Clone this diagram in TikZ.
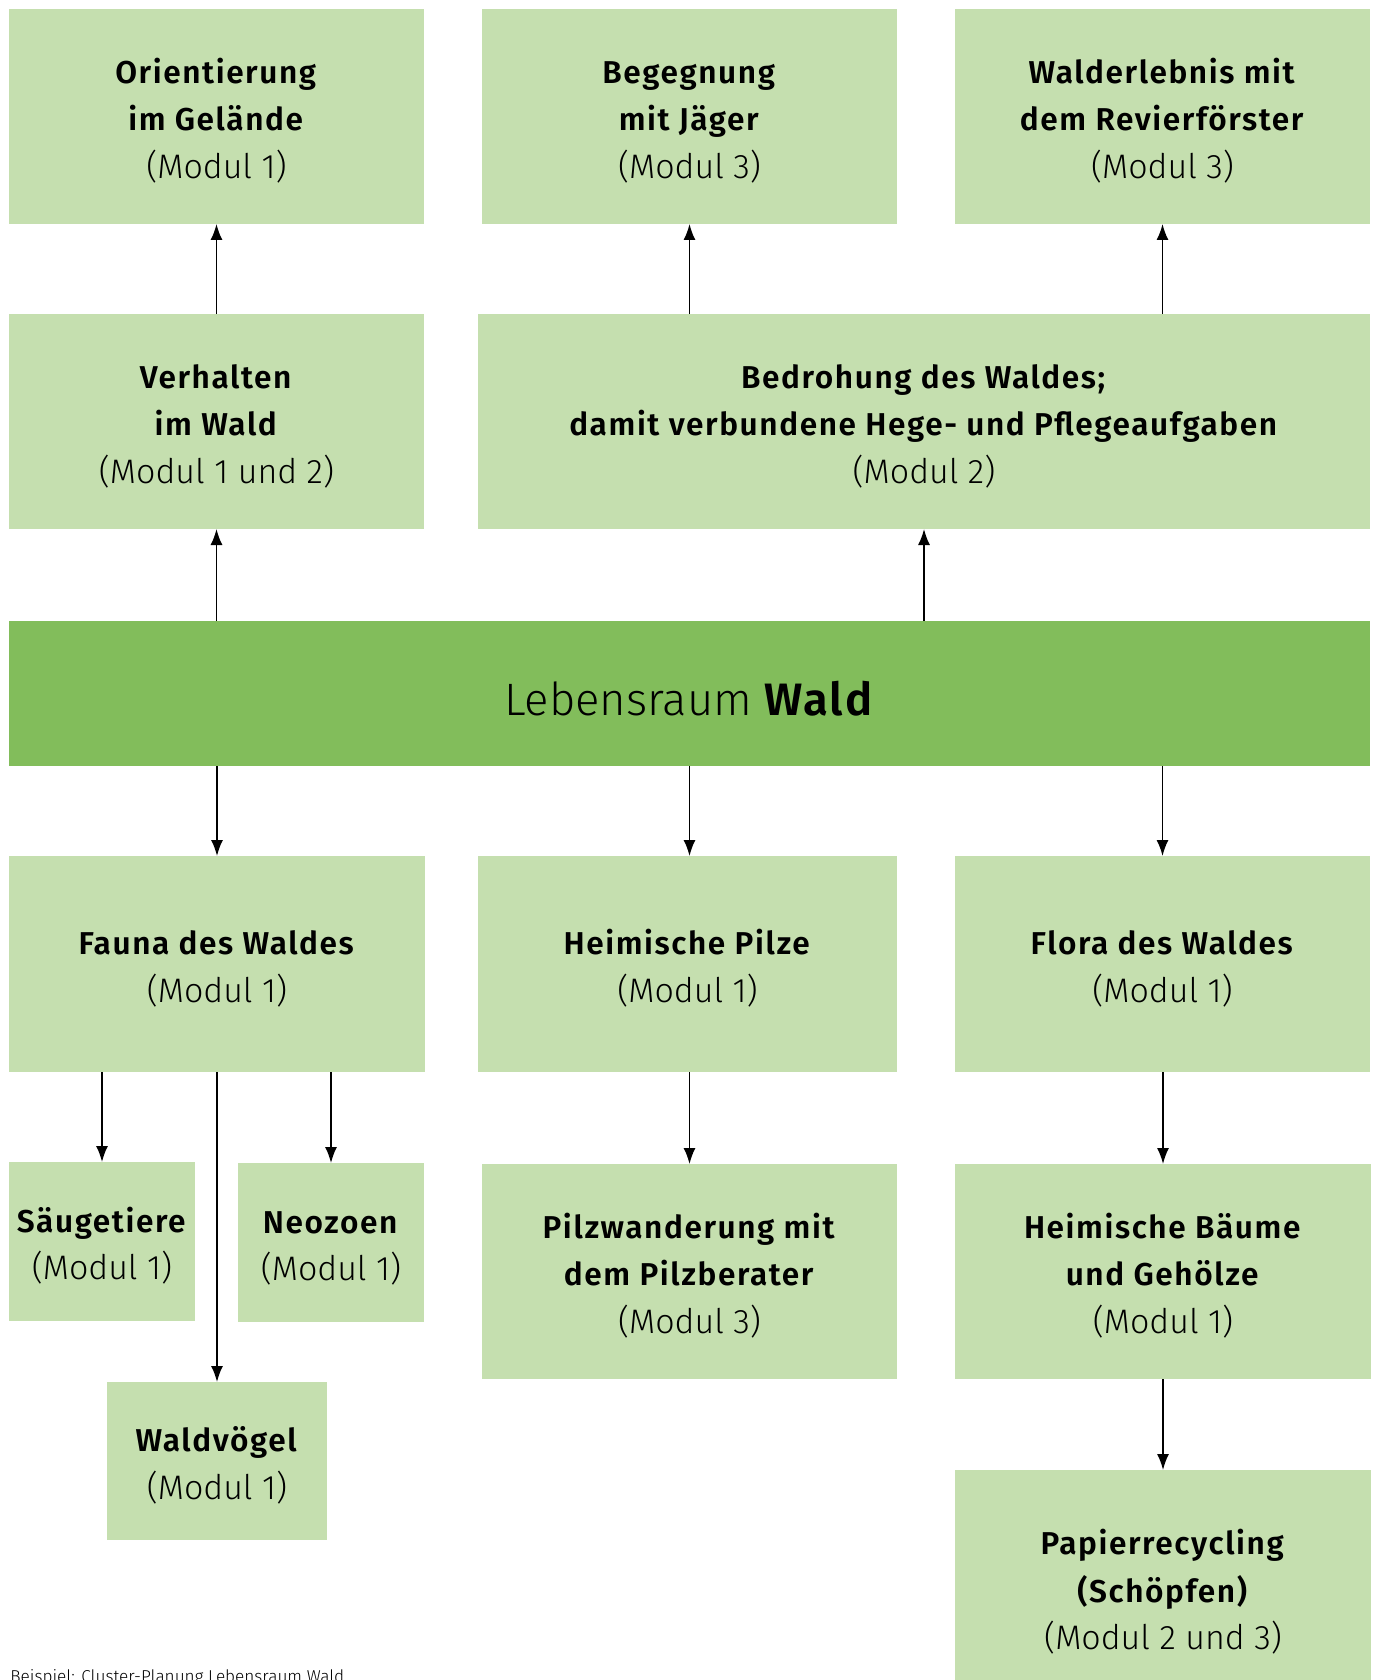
\documentclass[tikz,border=0pt]{standalone}
\usepackage{fontspec}
\setmainfont{Fira Sans}[BoldFont={* SemiBold}, BoldFeatures={LetterSpace=5}]
\newfontfamily\modfont{Fira Sans}[UprightFont=* Light]
\usepackage{tikz}
\usetikzlibrary{arrows.meta,calc}

\definecolor{hellgruen}{HTML}{C5DFAF}
\definecolor{waldgruen}{HTML}{82BD5B}

\newcommand{\modul}[1]{{\modfont\fontsize{17}{23.75}\selectfont(Modul #1)}}
\newcommand{\kopf}[1]{\rule{0pt}{16.8pt}\textbf{#1}}

\tikzset{
	box/.style={fill=hellgruen, inner sep=0pt, outer sep=0pt, align=center,
		font=\fontsize{15.8}{23.75}\selectfont},
	boxsize/.style 2 args={minimum width=#1*0.5pt, minimum height=#2*0.5pt},
	pfeil/.style={draw, line width=0.8pt, -{Latex[length=8pt,width=6pt]}}
}

\begin{document}
\begin{tikzpicture}[x=0.5pt,y=-0.5pt]
	\useasboundingbox (0,0) rectangle (1376,1680);
	% obere Reihen
	\node[box, boxsize={415}{215}] (ori) at (216.5,116.5) {\kopf{Orientierung}\\\textbf{im Gelände}\\\modul{1}};
	\node[box, boxsize={415}{215}] (beg) at (689.5,116.5) {\kopf{Begegnung}\\\textbf{mit Jäger}\\\modul{3}};
	\node[box, boxsize={415}{215}] (revier) at (1162.5,116.5) {\kopf{Walderlebnis mit}\\\textbf{dem Revierförster}\\\modul{3}};
	\node[box, boxsize={415}{215}] (verh) at (216.5,421.5) {\kopf{Verhalten}\\\textbf{im Wald}\\\modul{1 und 2}};
	\node[box, boxsize={892}{215}] (bedr) at (924,421.5) {\kopf{Bedrohung des Waldes;}\\\textbf{damit verbundene Hege- und Pflegeaufgaben}\\\modul{2}};
	% Mitte
	\node[box, fill=waldgruen, boxsize={1361}{145}, font=\fontsize{22.7}{30}\selectfont] (leb) at (689.5,693.5) {\rule{0pt}{22.5pt}{\modfont Lebensraum} \textbf{Wald}};
	% untere Reihen
	\node[box, boxsize={416}{216}] (fauna) at (217,964) {\kopf{Fauna des Waldes}\\\modul{1}};
	\node[box, boxsize={419}{216}] (pilze) at (687.5,964) {\kopf{Heimische Pilze}\\\modul{1}};
	\node[box, boxsize={415}{216}] (flora) at (1162.5,964) {\kopf{Flora des Waldes}\\\modul{1}};
	\node[box, boxsize={186}{159}] (saeug) at (102,1241.5) {\kopf{Säugetiere}\\\modul{1}};
	\node[box, boxsize={186}{159}] (neo) at (331,1242.5) {\kopf{Neozoen}\\\modul{1}};
	\node[box, boxsize={220}{158}] (voegel) at (217,1461) {\kopf{Waldvögel}\\\modul{1}};
	\node[box, boxsize={415}{215}] (pilzw) at (689.5,1271.5) {\kopf{Pilzwanderung mit}\\\textbf{dem Pilzberater}\\\modul{3}};
	\node[box, boxsize={416}{215}] (baeume) at (1163,1271.5) {\kopf{Heimische Bäume}\\\textbf{und Gehölze}\\\modul{1}};
	\node[box, boxsize={416}{236}] (papier) at (1163,1588) {\kopf{Papierrecycling}\\\textbf{(Schöpfen)}\\\modul{2 und 3}};
	\node[anchor=north west, inner sep=0pt, font=\modfont\fontsize{8.6}{9}\selectfont] (titel) at (10,1669) {Beispiel: Cluster-Planung Lebensraum Wald};
	% Pfeile
	\path[every edge/.style=pfeil]
	(verh) edge (ori)
	(bedr.north -| beg) edge (beg)
	(bedr.north -| revier) edge (revier)
	(leb.north -| verh) edge (verh)
	(leb.north -| bedr) edge (bedr)
	(leb.south -| fauna) edge (fauna)
	(leb.south -| beg) edge (pilze.north -| beg)
	(leb.south -| flora) edge (flora)
	(fauna.south -| saeug) edge (saeug)
	(fauna.south -| neo) edge (neo)
	(fauna) edge (voegel)
	(pilze.south -| pilzw) edge (pilzw)
	(flora.south -| baeume) edge (baeume)
	(baeume) edge (papier);
\end{tikzpicture}
\end{document}
